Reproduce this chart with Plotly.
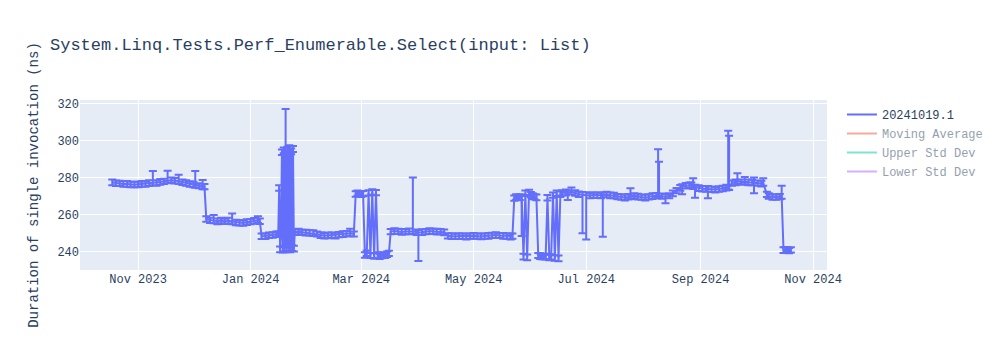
import plotly.graph_objects as go

dates = [
    "2023-10-18", "2023-10-20", "2023-10-22", "2023-10-24", "2023-10-26", "2023-10-28", "2023-10-30",
    "2023-11-01", "2023-11-03", "2023-11-05", "2023-11-07", "2023-11-09", "2023-11-11", "2023-11-13",
    "2023-11-15", "2023-11-17", "2023-11-19", "2023-11-21", "2023-11-23", "2023-11-25", "2023-11-27",
    "2023-11-29", "2023-12-01", "2023-12-02", "2023-12-04", "2023-12-06", "2023-12-07",
    "2023-12-08", "2023-12-10", "2023-12-12", "2023-12-14", "2023-12-16", "2023-12-18", "2023-12-20",
    "2023-12-22", "2023-12-24", "2023-12-26", "2023-12-28", "2023-12-30", "2024-01-01", "2024-01-03",
    "2024-01-05", "2024-01-06", "2024-01-07",
    "2024-01-09", "2024-01-11", "2024-01-13", "2024-01-15", "2024-01-16 00:00", "2024-01-16 12:00",
    "2024-01-17 00:00", "2024-01-17 12:00", "2024-01-18 00:00", "2024-01-18 12:00", "2024-01-19 00:00",
    "2024-01-19 12:00", "2024-01-20 00:00", "2024-01-20 12:00", "2024-01-21 00:00", "2024-01-21 12:00",
    "2024-01-22 00:00", "2024-01-22 12:00", "2024-01-23 00:00", "2024-01-23 12:00", "2024-01-24 00:00",
    "2024-01-24 12:00",
    "2024-01-25", "2024-01-27", "2024-01-29", "2024-01-31", "2024-02-02", "2024-02-04", "2024-02-06",
    "2024-02-08", "2024-02-10", "2024-02-12", "2024-02-14", "2024-02-16", "2024-02-18", "2024-02-20",
    "2024-02-22", "2024-02-24", "2024-02-26",
    "2024-02-27", "2024-02-28", "2024-02-29", "2024-03-01", "2024-03-02", "2024-03-03", "2024-03-04",
    "2024-03-05", "2024-03-06", "2024-03-07", "2024-03-08", "2024-03-09", "2024-03-10", "2024-03-11",
    "2024-03-12", "2024-03-13", "2024-03-14", "2024-03-15", "2024-03-16",
    "2024-03-17", "2024-03-19", "2024-03-21", "2024-03-23", "2024-03-25", "2024-03-27", "2024-03-29",
    "2024-03-31", "2024-04-01", "2024-04-03", "2024-04-05", "2024-04-07", "2024-04-09", "2024-04-11",
    "2024-04-13", "2024-04-15",
    "2024-04-17", "2024-04-19", "2024-04-21", "2024-04-23", "2024-04-25", "2024-04-27", "2024-04-29",
    "2024-05-01", "2024-05-03", "2024-05-05", "2024-05-07", "2024-05-09", "2024-05-11", "2024-05-13",
    "2024-05-15", "2024-05-17", "2024-05-19", "2024-05-21", "2024-05-22",
    "2024-05-23", "2024-05-24", "2024-05-25", "2024-05-26", "2024-05-27", "2024-05-28", "2024-05-29",
    "2024-05-30", "2024-05-31", "2024-06-01", "2024-06-02", "2024-06-03", "2024-06-04", "2024-06-05",
    "2024-06-06", "2024-06-07", "2024-06-08", "2024-06-09", "2024-06-10", "2024-06-11", "2024-06-12",
    "2024-06-13", "2024-06-14", "2024-06-15", "2024-06-16", "2024-06-17", "2024-06-18",
    "2024-06-20", "2024-06-21", "2024-06-23", "2024-06-25", "2024-06-27", "2024-06-29", "2024-07-01",
    "2024-07-03", "2024-07-05", "2024-07-07", "2024-07-09", "2024-07-10", "2024-07-12", "2024-07-14",
    "2024-07-16", "2024-07-18", "2024-07-20", "2024-07-22", "2024-07-24", "2024-07-25", "2024-07-27",
    "2024-07-29", "2024-07-31", "2024-08-02", "2024-08-04", "2024-08-06", "2024-08-08",
    "2024-08-09 00:00", "2024-08-09 12:00", "2024-08-11", "2024-08-13", "2024-08-15", "2024-08-17",
    "2024-08-19", "2024-08-21", "2024-08-22", "2024-08-24", "2024-08-26", "2024-08-27", "2024-08-28",
    "2024-08-29", "2024-08-31", "2024-09-02", "2024-09-04", "2024-09-05", "2024-09-07", "2024-09-09",
    "2024-09-11", "2024-09-13", "2024-09-15", "2024-09-16 00:00", "2024-09-16 12:00", "2024-09-18",
    "2024-09-20", "2024-09-21", "2024-09-23", "2024-09-25", "2024-09-27", "2024-09-29", "2024-09-30",
    "2024-10-02", "2024-10-04", "2024-10-05", "2024-10-07", "2024-10-08", "2024-10-10", "2024-10-12",
    "2024-10-14", "2024-10-15", "2024-10-16", "2024-10-17", "2024-10-18", "2024-10-19", "2024-10-20",
]

values = [
    277.4, 277.0, 276.8, 276.6, 276.5, 276.3, 276.2,
    276.4, 276.6, 276.5, 277.0, 277.3, 277.2, 277.6,
    278.0, 278.3, 278.6, 278.4, 278.0, 277.5, 277.0,
    276.6, 276.2, 276.0, 275.6, 275.3, 275.1,
    257.6, 257.0, 256.8, 256.5, 256.8, 256.4, 256.7,
    256.3, 255.9, 255.6, 255.5, 255.9, 256.3, 256.7,
    256.9, 256.5, 248.3,
    248.5, 248.8, 249.1, 249.4, 249.6, 274.5,
    241.5, 249.8, 293.5, 241.2, 294.5,
    242.0, 295.0, 241.5, 294.8, 242.0,
    295.5, 241.3, 294.0, 242.2, 295.2,
    241.8,
    250.6, 250.8, 250.5, 250.4, 250.2, 250.0, 249.6,
    249.0, 248.6, 248.8, 249.0, 248.8, 249.3, 249.5,
    249.8, 250.0, 249.6,
    271.2, 271.6, 271.4, 271.0, 271.3, 238.4, 239.2,
    271.8, 238.0, 272.2, 237.8, 271.9, 238.2, 237.6,
    237.9, 238.3, 238.0, 238.6, 239.2,
    250.9, 251.2, 251.0, 250.7, 250.9, 251.0, 251.0,
    250.6, 250.4, 250.5, 250.9, 251.2, 251.0, 250.8,
    250.9, 250.5,
    248.6, 248.4, 248.3, 248.5, 248.4, 248.2, 248.5,
    248.6, 248.4, 248.3, 248.5, 248.7, 248.9, 249.0,
    248.8, 248.6, 248.4, 248.2, 248.4,
    269.0, 269.4, 269.2, 269.5, 269.3, 237.5, 271.5,
    237.2, 272.0, 270.8, 270.0, 269.6, 269.4, 238.0,
    237.6, 237.4, 237.6, 237.2, 269.0, 237.0, 237.3,
    270.5, 236.8, 271.5, 236.6, 271.0, 271.8,
    272.0, 271.5, 272.3, 271.8, 271.0, 270.8, 270.5,
    270.2, 270.6, 270.4, 270.3, 270.5, 270.8, 270.5,
    270.2, 269.8, 269.5, 269.3, 269.6, 270.0, 270.2,
    269.8, 269.5, 269.2, 269.6, 270.0, 270.3,
    271.0, 270.5, 270.0, 269.5, 270.2, 271.5,
    273.0, 274.5, 275.0, 275.5, 276.0, 275.8, 275.5,
    274.8, 274.2, 274.0, 273.8, 274.0, 273.6, 273.5,
    273.8, 274.2, 274.5, 275.0, 274.8, 277.0,
    277.5, 278.0, 277.6, 277.8, 277.5, 277.2, 277.4,
    277.0, 276.8, 277.0, 271.0, 270.0, 269.6, 269.4,
    269.8, 270.0, 241.0, 240.8, 241.2, 240.6, 241.0,
]

err_plus = [
    1.6, 1.4, 1.5, 1.4, 1.6, 1.4, 1.5,
    1.4, 1.6, 1.4, 1.5, 6.2, 1.4, 1.6,
    1.4, 5.4, 1.5, 1.4, 3.5, 1.4, 1.6,
    1.4, 1.5, 7.5, 1.4, 3.4, 1.4,
    1.6, 1.4, 3.0, 1.4, 1.5, 1.4, 1.6,
    4.4, 1.4, 1.5, 1.4, 1.6, 1.4, 1.5,
    2.3, 1.4, 1.5,
    1.4, 1.6, 1.4, 1.5, 1.4, 1.4,
    1.4, 1.4, 1.6, 1.4, 1.7,
    1.4, 22.0, 1.4, 1.8, 1.4,
    1.9, 1.4, 1.6, 1.4, 1.8,
    1.4,
    1.4, 1.6, 1.4, 1.5, 1.4, 1.6, 1.4,
    1.5, 1.4, 1.6, 1.4, 1.5, 1.4, 1.6,
    1.4, 2.4, 1.4,
    1.4, 1.5, 1.4, 1.6, 1.4, 1.4, 1.5,
    1.4, 1.4, 1.5, 1.4, 1.4, 1.6, 1.4,
    1.4, 1.5, 1.4, 1.6, 1.4,
    1.4, 1.5, 1.4, 1.6, 1.4, 1.5, 29.1,
    1.4, 1.4, 1.6, 1.4, 1.5, 1.4, 1.6,
    1.4, 1.5,
    1.4, 1.6, 1.4, 1.5, 1.4, 1.6, 1.4,
    1.5, 1.4, 1.6, 1.4, 1.5, 1.4, 1.6,
    1.4, 1.5, 1.4, 1.6, 1.4,
    1.4, 1.6, 1.4, 1.5, 1.4, 1.4, 1.6,
    1.4, 1.5, 1.4, 1.6, 1.4, 1.5, 1.4,
    1.6, 1.4, 1.5, 1.4, 1.6, 1.4, 1.4,
    1.5, 1.4, 1.6, 1.4, 1.5, 1.4,
    1.6, 1.4, 2.4, 1.4, 1.5, 1.4, 1.6,
    1.4, 1.5, 1.4, 1.6, 1.4, 1.5, 1.4,
    1.6, 1.4, 1.5, 1.4, 1.6, 4.2, 1.4,
    1.5, 1.4, 1.6, 1.4, 1.5, 1.4,
    24.2, 18.0, 1.4, 1.5, 1.4, 1.6,
    1.4, 1.5, 1.4, 1.6, 1.4, 1.5, 4.1,
    1.4, 1.6, 1.4, 1.5, 1.4, 1.6, 1.4,
    1.5, 1.4, 1.6, 30.2, 27.7, 1.4,
    1.5, 4.3, 1.4, 2.5, 1.4, 1.6, 2.7,
    1.4, 1.5, 2.6, 1.4, 1.6, 1.4, 1.5,
    1.4, 5.6, 1.4, 1.6, 1.4, 1.5, 1.4,
]

err_minus = [
    1.6, 1.5, 1.4, 1.6, 1.4, 1.5, 1.4,
    1.6, 1.4, 1.4, 1.5, 1.4, 1.6, 1.4,
    1.5, 1.4, 1.4, 1.6, 1.4, 1.5, 1.4,
    1.6, 1.4, 1.5, 1.4, 1.6, 1.4,
    1.4, 1.5, 1.4, 1.6, 1.4, 1.4, 1.5,
    1.4, 1.6, 1.4, 1.5, 1.4, 1.4, 1.6,
    1.4, 1.5, 1.4,
    1.6, 1.4, 1.5, 1.4, 1.4, 1.6,
    1.7, 1.4, 1.4, 1.6, 1.4,
    1.7, 1.4, 1.7, 1.4, 1.8,
    1.4, 1.6, 1.4, 1.7, 1.4,
    1.6,
    1.5, 1.4, 1.4, 1.6, 1.4, 1.5, 1.4,
    1.6, 1.4, 1.5, 1.4, 1.6, 1.4, 1.5,
    1.4, 1.6, 1.4,
    1.5, 1.4, 1.6, 1.4, 1.4, 1.6, 1.4,
    1.5, 1.4, 1.4, 1.6, 1.4, 1.4, 1.5,
    1.4, 1.6, 1.4, 1.4, 1.5,
    1.4, 1.6, 1.4, 1.5, 1.4, 1.6, 1.4,
    1.5, 15.4, 1.4, 1.4, 1.6, 1.4, 1.5,
    1.4, 1.6,
    1.4, 1.5, 1.4, 1.6, 1.4, 1.5, 1.4,
    1.6, 1.4, 1.5, 1.4, 1.6, 1.4, 1.5,
    1.4, 1.6, 1.4, 1.5, 1.4,
    1.5, 1.4, 1.4, 1.6, 20.8, 1.6, 1.4,
    1.7, 1.4, 1.4, 1.5, 1.4, 1.6, 1.4,
    1.5, 1.4, 1.6, 1.4, 1.4, 1.5, 1.4,
    1.4, 1.6, 1.4, 1.7, 1.4, 1.4,
    1.5, 3.6, 1.4, 1.6, 1.4, 20.8, 23.8,
    1.4, 1.6, 1.4, 1.5, 22.4, 1.4, 1.6,
    1.4, 1.5, 1.4, 1.6, 1.4, 1.5, 1.4,
    1.6, 1.4, 1.5, 1.4, 1.6, 1.4,
    1.4, 1.5, 1.4, 3.4, 1.4, 1.5,
    1.4, 1.6, 4.0, 1.4, 1.5, 1.4, 1.6,
    5.7, 1.4, 1.5, 1.4, 5.2, 1.4, 1.5,
    1.4, 1.6, 1.4, 1.4, 1.5, 1.4,
    1.6, 1.4, 1.5, 1.4, 1.6, 1.4, 5.9,
    1.4, 1.6, 1.4, 1.5, 1.4, 1.6, 1.4,
    1.5, 1.4, 1.6, 1.4, 1.5, 1.4, 1.4,
]

# Hidden (legend-only) helper series
aux_dates = ["2023-10-18", "2023-12-15", "2024-02-15", "2024-04-15", "2024-06-15", "2024-08-15", "2024-10-15"]
moving_average = [277.0, 262.0, 255.0, 250.0, 256.0, 270.0, 268.0]
upper_std = [279.0, 270.0, 268.0, 256.0, 270.0, 273.0, 276.0]
lower_std = [275.0, 254.0, 242.0, 244.0, 242.0, 267.0, 260.0]

title_text = "System.Linq.Tests.Perf_Enumerable.Select(input: List)"
y_title = "Duration of single invocation (ns)"
series_name = "20241019.1"

assert len(dates) == len(values) == len(err_plus) == len(err_minus)

fig = go.Figure()
fig.add_trace(go.Scatter(
    x=dates, y=values, mode="lines", name=series_name,
    line=dict(color="#636efa", width=2),
    error_y=dict(type="data", symmetric=False, array=err_plus, arrayminus=err_minus,
                 color="#636efa", thickness=2, width=4),
))
fig.add_trace(go.Scatter(x=aux_dates, y=moving_average, mode="lines", name="Moving Average",
                         line=dict(color="#EF553B"), visible="legendonly"))
fig.add_trace(go.Scatter(x=aux_dates, y=upper_std, mode="lines", name="Upper Std Dev",
                         line=dict(color="#00cc96"), visible="legendonly"))
fig.add_trace(go.Scatter(x=aux_dates, y=lower_std, mode="lines", name="Lower Std Dev",
                         line=dict(color="#ab63fa"), visible="legendonly"))

fig.update_layout(
    width=1000, height=350,
    template="plotly",
    font=dict(family="Liberation Mono, Courier New, monospace", size=12),
    title=dict(text=title_text, font=dict(size=17)),
    yaxis=dict(title=dict(text=y_title), range=[230.2, 321.8]),
    xaxis=dict(range=["2023-09-30 12:00", "2024-11-08 14:00"]),
)

fig.write_html("out.html")
